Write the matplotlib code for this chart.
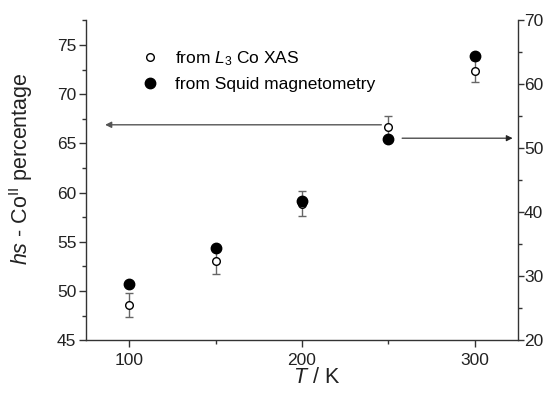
"""hs-Co(II) fraction vs temperature: XAS (left axis) and Squid (right axis)."""

import matplotlib

matplotlib.use("Agg")
import matplotlib.pyplot as plt
from matplotlib.lines import Line2D
from matplotlib.ticker import MultipleLocator

plt.rcParams["font.family"] = ["Liberation Sans", "DejaVu Sans"]
plt.rcParams["mathtext.fontset"] = "custom"
plt.rcParams["mathtext.rm"] = "Liberation Sans"
plt.rcParams["mathtext.it"] = "Liberation Sans:italic"

# Data
temps = [100, 150, 200, 250, 300]
xas_pct = [48.6, 53.1, 58.9, 66.7, 72.4]
xas_err = [1.2, 1.4, 1.3, 1.1, 1.1]
squid_pct = [28.8, 34.5, 41.8, 51.4, 64.5]  # right axis

AXIS = "#333333"
ERR = "#666666"
TXT = "#222222"

fig = plt.figure(figsize=(5.45, 3.98), dpi=100)
ax = fig.add_axes([0.158, 0.145, 0.792, 0.8035])
ax2 = ax.twinx()

ax.errorbar(temps, xas_pct, yerr=xas_err, fmt="o", mfc="white", mec="black",
            mew=1.0, ms=5.5, ecolor=ERR, elinewidth=1.0, capsize=3, capthick=1.0,
            zorder=3)
ax2.plot(temps, squid_pct, "o", color="black", ms=7.5, zorder=4)

ax.set_xlim(75, 325)
ax.set_ylim(45, 77.5)
ax2.set_ylim(20, 70)

ax.xaxis.set_major_locator(MultipleLocator(100))
ax.xaxis.set_minor_locator(MultipleLocator(50))
ax.yaxis.set_major_locator(MultipleLocator(5))
ax.yaxis.set_minor_locator(MultipleLocator(2.5))
ax2.yaxis.set_major_locator(MultipleLocator(10))
ax2.yaxis.set_minor_locator(MultipleLocator(5))

for a in (ax, ax2):
    a.spines["top"].set_visible(False)
    for s in a.spines.values():
        s.set_color(AXIS)
        s.set_linewidth(1.0)
    a.tick_params(which="major", direction="out", length=5, width=1.0,
                  color=AXIS, labelsize=12.5, labelcolor=TXT)
    a.tick_params(which="minor", direction="out", length=3, width=1.0, color=AXIS)
ax.spines["right"].set_visible(False)
ax2.spines["left"].set_visible(False)
ax2.spines["bottom"].set_visible(False)
ax2.spines["right"].set_bounds(20, 70)
ax.tick_params(axis="x", pad=4)
ax2.tick_params(axis="y", which="major", length=4, pad=0.5)
ax.tick_params(axis="y", pad=2)

ax.set_xlabel(r"$T$ / K", fontsize=15.5, color=TXT)
ax.xaxis.set_label_coords(0.533, -0.085)
ax.set_ylabel(r"$hs$ - Co$^{\mathrm{II}}$ percentage", fontsize=15.5, color=TXT)
ax.yaxis.set_label_coords(-0.118, 0.538)

# arrows pointing to the relevant axis
ax.annotate("", xy=(86, 66.9), xytext=(246, 66.9),
            arrowprops=dict(arrowstyle="-|>", color="#555555", lw=1.0,
                            mutation_scale=9, shrinkA=0, shrinkB=0))
ax2.annotate("", xy=(322, 51.6), xytext=(258, 51.6),
             arrowprops=dict(arrowstyle="-|>", color="#222222", lw=0.8,
                             mutation_scale=9, shrinkA=0, shrinkB=0))

handles = [
    Line2D([], [], ls="none", marker="o", mfc="white", mec="black", mew=1.0, ms=5.5),
    Line2D([], [], ls="none", marker="o", color="black", ms=7.5),
]
labels = [r"from $L_3$ Co XAS", "from Squid magnetometry"]
ax.legend(handles, labels, loc="upper left", bbox_to_anchor=(0.102, 0.933),
          frameon=False, fontsize=12.5, handletextpad=0.67, handlelength=1.5,
          labelspacing=0.56, borderaxespad=0)

fig.savefig("out.png", dpi=100)
